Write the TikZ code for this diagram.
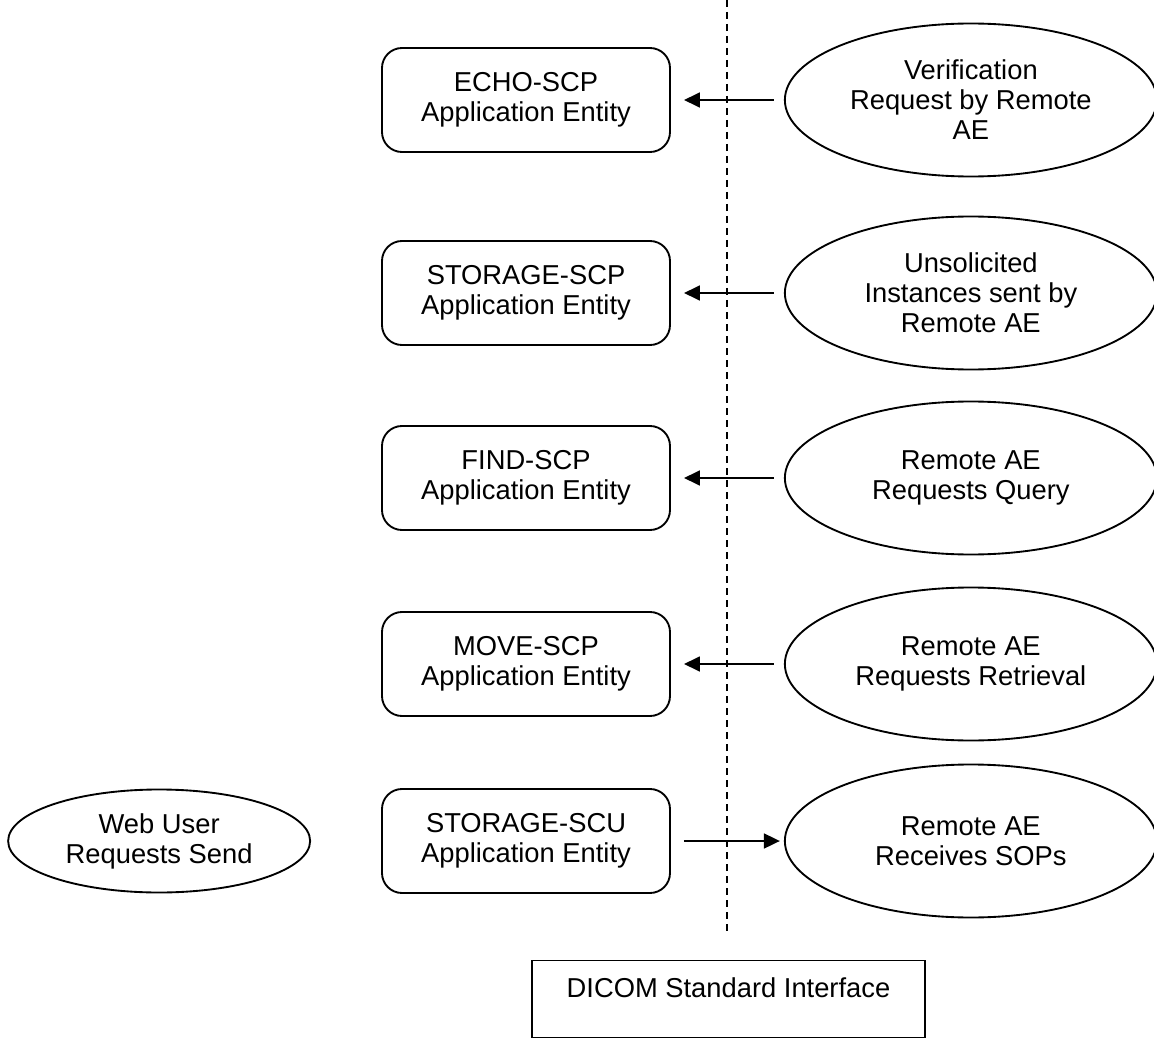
\documentclass[tikz,border=0pt]{standalone}
\usepackage{fontspec}
\setmainfont{Liberation Sans}
\usetikzlibrary{shapes.geometric,arrows.meta,positioning}

\begin{document}
\begin{tikzpicture}[x=0.75pt, y=-0.75pt,
    font=\fontsize{20.5}{22.5}\selectfont,
    ae/.style={rectangle, draw, rounded corners=15pt, line width=1.4pt, minimum width=216pt, minimum height=78pt, align=center},
    remote/.style={ellipse, draw, line width=1.4pt, minimum width=279pt, minimum height=114.75pt, inner sep=0pt, align=center},
    arrow/.style={-{Triangle[length=12pt,width=11pt]}, line width=2pt, shorten <=7.5pt, shorten >=9.75pt},
    divider/.style={dash pattern=on 5.25pt off 3.75pt, line width=1pt}]

    \useasboundingbox (0,0) rectangle (1154,1038);

    % Boundary of the DICOM interface
    \coordinate (ltop) at (727,0);
    \coordinate (lbot) at (727,933);
    \draw[divider] (ltop) -- (lbot);

    % Application entities
    \node[ae] (echo) at (526,100) {ECHO-SCP\\Application Entity};
    \node[ae] (storescp) at (526,293) {STORAGE-SCP\\Application Entity};
    \node[ae] (findscp) at (526,478) {FIND-SCP\\Application Entity};
    \node[ae] (movescp) at (526,664) {MOVE-SCP\\Application Entity};
    \node[ae] (storescu) at (526,841) {STORAGE-SCU\\Application Entity};

    % Remote activities
    \node[remote, right=84.75pt of echo] (verify) {Verification\\Request by Remote\\AE};
    \node[remote, right=84.75pt of storescp] (unsolicited) {Unsolicited\\Instances sent by\\Remote AE};
    \node[remote, right=84.75pt of findscp] (query) {Remote AE\\Requests Query};
    \node[remote, right=84.75pt of movescp] (retrieve) {Remote AE\\Requests Retrieval};
    \node[remote, right=84.75pt of storescu] (receive) {Remote AE\\Receives SOPs};

    % Local activity
    \node[remote, minimum width=226.5pt, minimum height=77.25pt, left=52.5pt of storescu] (webuser) {Web User\\Requests Send};

    % Arrows
    \draw[arrow] (verify) -- (echo);
    \draw[arrow] (unsolicited) -- (storescp);
    \draw[arrow] (query) -- (findscp);
    \draw[arrow] (retrieve) -- (movescp);
    \draw[arrow, shorten <=9.75pt, shorten >=3pt] (storescu) -- (receive);

    % Interface box
    \node[draw, line width=1pt, minimum width=294.75pt, minimum height=57.75pt, anchor=north] (dicom) at (728.5,960) {};
    \node (dicomtext) at (728.5,988) {DICOM Standard Interface};

\end{tikzpicture}
\end{document}
